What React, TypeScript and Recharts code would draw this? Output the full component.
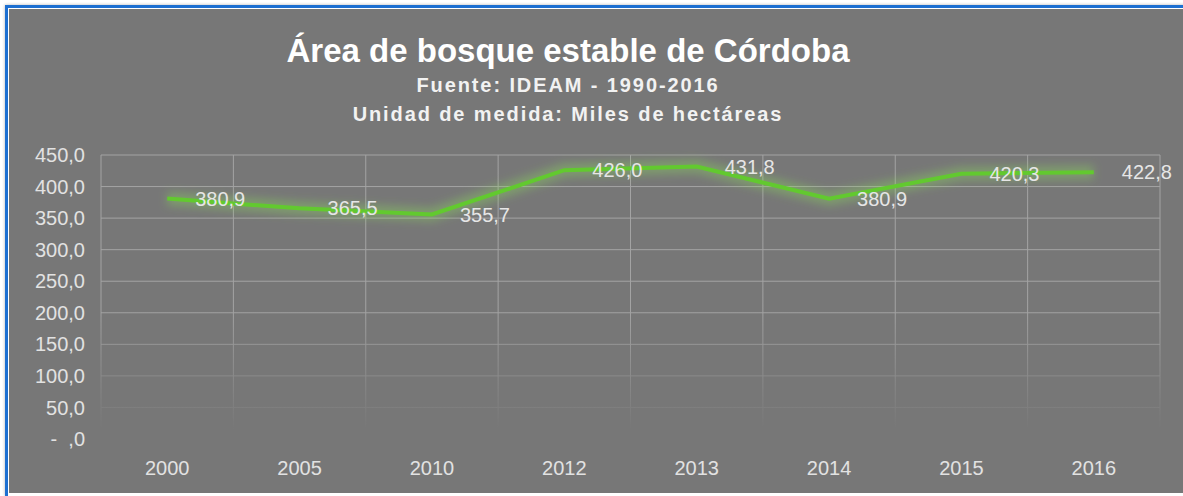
import React from 'react';
import { LineChart, Line, XAxis, YAxis, CartesianGrid, LabelList } from 'recharts';

const years = ['2000', '2005', '2010', '2012', '2013', '2014', '2015', '2016'];
const values = [380.9, 365.5, 355.7, 426.0, 431.8, 380.9, 420.3, 422.8];
const yTicks = [0, 50, 100, 150, 200, 250, 300, 350, 400, 450];
const xTicks = [0, 1, 2, 3, 4, 5, 6, 7];
const gridTicks = [0, 1, 2, 3, 4, 5, 6, 7, 8];

const data = years.map((y, i) => ({ idx: i, year: y, value: values[i] }));

const fmtNum = (v: number) => v.toFixed(1).replace('.', ',');
const fmtY = (v: number) => (v === 0 ? '-\u00a0\u00a0,0' : fmtNum(v));

const FONT = '"Liberation Sans", Arial, sans-serif';

export default function App() {
  return (
    <div style={{ position: 'fixed', left: 0, top: 0, width: 1183, height: 496, background: '#ffffff', overflow: 'hidden', fontFamily: FONT }}>
      <div style={{ position: 'absolute', left: 5, top: 5, width: 1200, height: 488, borderLeft: '3px solid #1d6fd1', borderTop: '3px solid #1d6fd1', boxShadow: '0 0 3px rgba(0,0,0,0.3)' }} />
      <div style={{ position: 'absolute', left: 9, top: 9, width: 1174, height: 484, background: '#777777' }} />
      <div style={{ position: 'absolute', left: 0, width: 1136, top: 31, textAlign: 'center', color: '#ffffff', fontWeight: 'bold', fontSize: 33, lineHeight: '40px' }}>
        Área de bosque estable de Córdoba
      </div>
      <div style={{ position: 'absolute', left: 0, width: 1136, top: 73, textAlign: 'center', color: '#f2f2f2', fontWeight: 'bold', fontSize: 20, letterSpacing: 1.9, lineHeight: '24px' }}>
        Fuente: IDEAM - 1990-2016
      </div>
      <div style={{ position: 'absolute', left: 0, width: 1136, top: 102, textAlign: 'center', color: '#f2f2f2', fontWeight: 'bold', fontSize: 20, letterSpacing: 1.9, lineHeight: '24px' }}>
        Unidad de medida: Miles de hectáreas
      </div>
      <div style={{ position: 'absolute', left: 9, top: 9 }}>
        <LineChart width={1174} height={484} data={data} margin={{ top: 146, right: 23, bottom: 0, left: 0 }}>
          <defs>
            <linearGradient id="gridFade" gradientUnits="userSpaceOnUse" x1="0" y1="300" x2="0" y2="420">
              <stop offset="0" stopColor="#a3a3a3" />
              <stop offset="1" stopColor="#777777" />
            </linearGradient>
            <filter id="glow" x="-10%" y="-50%" width="120%" height="200%">
              <feGaussianBlur stdDeviation="4" />
            </filter>
          </defs>
          <CartesianGrid stroke="url(#gridFade)" strokeWidth={1} xAxisId="grid" />
          <XAxis xAxisId="grid" type="number" dataKey="idx" domain={[0, 8]} ticks={gridTicks} hide />
          <XAxis
            type="number"
            dataKey="idx"
            domain={[-0.5, 7.5]}
            ticks={xTicks}
            tickFormatter={(i: number) => years[i]}
            axisLine={false}
            tickLine={false}
            tickSize={0}
            tickMargin={22}
            height={54}
            tick={{ fill: '#e2e2e2', fontSize: 20, fontFamily: FONT }}
            interval={0}
          />
          <YAxis
            domain={[0, 450]}
            ticks={yTicks}
            tickFormatter={fmtY}
            axisLine={false}
            tickLine={false}
            tickSize={0}
            tickMargin={16}
            width={92}
            tick={{ fill: '#e2e2e2', fontSize: 20, fontFamily: FONT }}
            interval={0}
          />
          <Line
            dataKey="value"
            stroke="#8be05a"
            strokeWidth={14}
            strokeOpacity={0.35}
            dot={false}
            activeDot={false}
            isAnimationActive={false}
            filter="url(#glow)"
            strokeLinejoin="miter"
          />
          <Line
            dataKey="value"
            stroke="#62c92f"
            strokeWidth={4}
            dot={false}
            activeDot={false}
            isAnimationActive={false}
            strokeLinejoin="miter"
          >
            <LabelList dataKey="value" position="right" offset={28} formatter={(v: number) => fmtNum(v)} fill="#e6e6e6" fontSize={20} fontFamily={FONT} />
          </Line>
        </LineChart>
      </div>
    </div>
  );
}
